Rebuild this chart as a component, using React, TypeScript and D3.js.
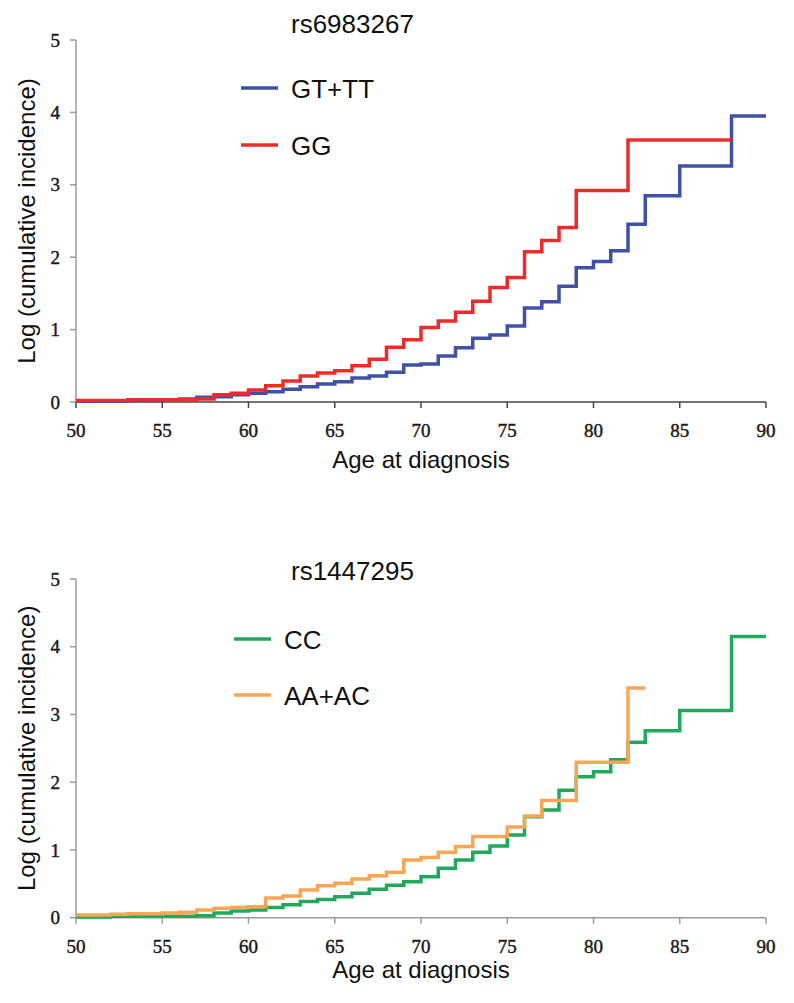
import React from "react";
import * as d3 from "d3";

// ---- Data ----
const agesTop = [50,51,52,53,54,55,56,57,58,59,60,61,62,63,64,65,66,67,68,69,70,71,72,73,74,75,76,77,78,79,80,81,82,83,84,85,86,87,88,89,90];
const gtTT = [0.01,0.01,0.01,0.02,0.02,0.03,0.04,0.065,0.073,0.1,0.12,0.14,0.175,0.21,0.25,0.28,0.33,0.36,0.41,0.51,0.525,0.635,0.75,0.88,0.925,1.05,1.3,1.385,1.6,1.855,1.94,2.09,2.455,2.85,2.85,3.26,3.26,3.26,3.95,3.95,3.95];
const agesGG = [50,51,52,53,54,55,56,57,58,59,60,61,62,63,64,65,66,67,68,69,70,71,72,73,74,75,76,77,78,79,80,81,82,83,84,85,86,87,88];
const gg = [0.02,0.02,0.02,0.03,0.03,0.03,0.03,0.04,0.1,0.12,0.166,0.225,0.29,0.36,0.4,0.43,0.5,0.59,0.755,0.86,1.03,1.12,1.24,1.39,1.58,1.72,2.075,2.23,2.41,2.92,2.92,2.92,3.62,3.62,3.62,3.62,3.62,3.62,3.62];

const agesCC = [50,51,52,53,54,55,56,57,58,59,60,61,62,63,64,65,66,67,68,69,70,71,72,73,74,75,76,77,78,79,80,81,82,83,84,85,86,87,88,89,90];
const cc = [0.01,0.01,0.02,0.02,0.02,0.02,0.02,0.03,0.07,0.1,0.114,0.15,0.19,0.24,0.27,0.31,0.36,0.42,0.48,0.53,0.605,0.73,0.85,0.965,1.06,1.22,1.49,1.59,1.88,2.08,2.155,2.33,2.59,2.76,2.76,3.06,3.06,3.06,4.15,4.15,4.15];
const agesAA = [50,51,52,53,54,55,56,57,58,59,60,61,62,63,64,65,66,67,68,69,70,71,72,73,74,75,76,77,78,79,80,81,82,83];
const aaAC = [0.04,0.04,0.05,0.06,0.06,0.07,0.08,0.114,0.14,0.15,0.16,0.29,0.32,0.41,0.47,0.51,0.57,0.62,0.67,0.85,0.89,0.965,1.05,1.2,1.2,1.34,1.5,1.73,1.73,2.295,2.295,2.295,3.39,3.39];

const xTicks = [50,55,60,65,70,75,80,85,90];
const yTicks = [0,1,2,3,4,5];

const COLORS = { blue: "#3f51a6", red: "#ee2b2b", green: "#21a95b", orange: "#f6a654" };

type Series = { name: string; ages: number[]; vals: number[]; color: string };

function Panel({ top, bottom, title, series, titleY, legendY, legendX, xAxisColor, xLabelY, tickY }: {
  top: number; bottom: number; title: string; series: Series[]; titleY: number;
  legendY: number[]; legendX: number; xAxisColor: string; xLabelY: number; tickY: number;
}) {
  const x = d3.scaleLinear().domain([50, 90]).range([76, 766]);
  const y = d3.scaleLinear().domain([0, 5]).range([bottom, top]);
  const line = d3.line<[number, number]>().x(d => x(d[0])).y(d => y(d[1])).curve(d3.curveStepAfter);
  const axisGray = "#9a9a9a";
  const tickFont = { fontFamily: "Liberation Serif, Times New Roman, serif", fontSize: 19, fill: "#1a1a1a", stroke: "#1a1a1a", strokeWidth: 0.45 };
  return (
    <g>
      <text x={291} y={titleY} fontFamily="Liberation Sans, Arial, sans-serif" fontSize={26} fill="#111">{title}</text>
      {/* y axis */}
      <line x1={76} x2={76} y1={y(5)} y2={y(0)} stroke={axisGray} strokeWidth={1.5} />
      {yTicks.map(t => (
        <g key={"y" + t}>
          <line x1={70} x2={76} y1={y(t)} y2={y(t)} stroke={axisGray} strokeWidth={1.5} />
          <text x={60} y={y(t)} dy="0.35em" textAnchor="end" {...tickFont}>{t}</text>
        </g>
      ))}
      {/* x axis */}
      <line x1={x(50)} x2={x(90)} y1={y(0)} y2={y(0)} stroke={xAxisColor} strokeWidth={1.5} />
      {xTicks.map(t => (
        <g key={"x" + t}>
          <line x1={x(t)} x2={x(t)} y1={y(0)} y2={y(0) + 6} stroke={xAxisColor} strokeWidth={1.5} />
          <text x={x(t)} y={tickY} textAnchor="middle" {...tickFont}>{t}</text>
        </g>
      ))}
      <text x={421} y={xLabelY} textAnchor="middle" fontFamily="Liberation Sans, Arial, sans-serif" fontSize={24} fill="#111">Age at diagnosis</text>
      <text transform={`translate(35,${(y(0) + y(5)) / 2}) rotate(-90)`} textAnchor="middle" fontFamily="Liberation Sans, Arial, sans-serif" fontSize={24} fill="#111">Log (cumulative incidence)</text>
      {/* series */}
      {series.map(s => (
        <path key={s.name} d={line(s.ages.map((a, i) => [a, s.vals[i]] as [number, number])) || ""} fill="none" stroke={s.color} strokeWidth={3.5} />
      ))}
      {/* legend */}
      {series.map((s, i) => (
        <g key={"l" + s.name}>
          <line x1={legendX} x2={legendX + 37} y1={legendY[i]} y2={legendY[i]} stroke={s.color} strokeWidth={3.5} />
          <text x={legendX + 50} y={legendY[i] + 10} fontFamily="Liberation Sans, Arial, sans-serif" fontSize={26} fill="#111">{s.name}</text>
        </g>
      ))}
    </g>
  );
}

export default function App() {
  const topSeries: Series[] = [
    { name: "GT+TT", ages: agesTop, vals: gtTT, color: COLORS.blue },
    { name: "GG", ages: agesGG, vals: gg, color: COLORS.red },
  ];
  const bottomSeries: Series[] = [
    { name: "CC", ages: agesCC, vals: cc, color: COLORS.green },
    { name: "AA+AC", ages: agesAA, vals: aaAC, color: COLORS.orange },
  ];
  return (
    <svg width={794} height={1003} style={{ position: "absolute", left: 0, top: 0, background: "#fff" }}>
      <rect width={794} height={1003} fill="#fff" />
      <Panel top={40} bottom={402} title="rs6983267" series={topSeries} titleY={33}
        legendY={[88, 145]} legendX={241} xAxisColor="#444" xLabelY={468} tickY={437} />
      <Panel top={579} bottom={917.7} title="rs1447295" series={bottomSeries} titleY={580}
        legendY={[639, 695]} legendX={234} xAxisColor="#9a9a9a" xLabelY={978} tickY={953} />
    </svg>
  );
}
